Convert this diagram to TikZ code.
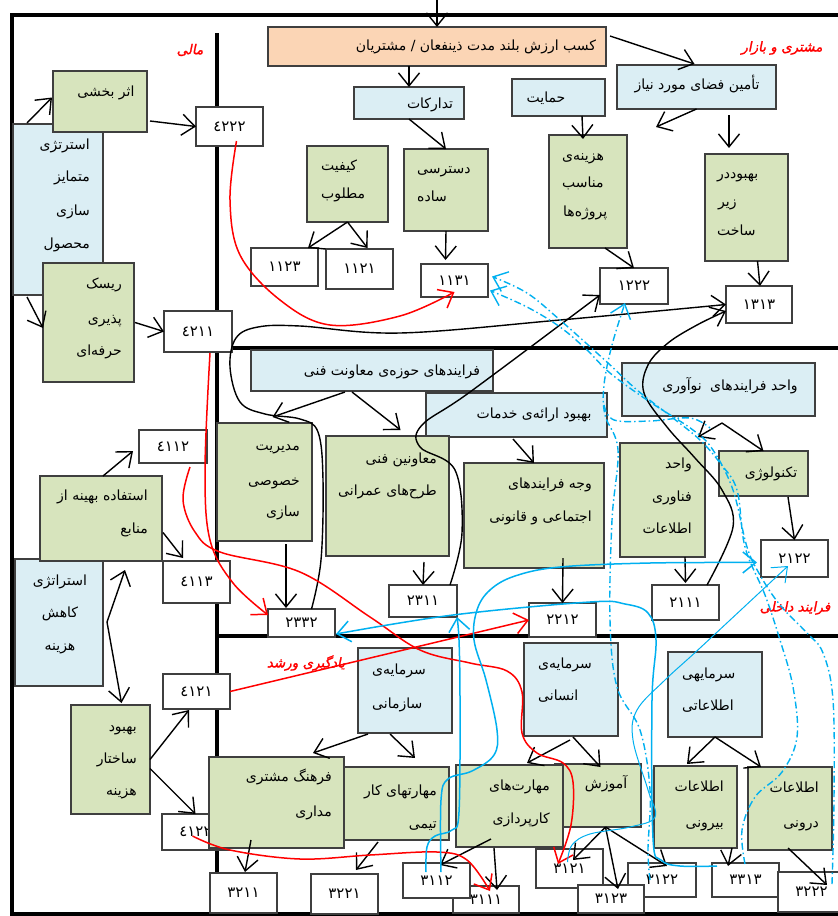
\documentclass[tikz,border=0pt]{standalone}
\usepackage{fontspec}
\newfontfamily\ar[Script=Arabic]{DejaVu Sans}
\newfontfamily\arred[Script=Arabic,FakeSlant=0.2,FakeBold=1.5]{DejaVu Sans}
\TeXXeTstate=1
\usetikzlibrary{arrows.meta,calc}
\definecolor{gfill}{HTML}{D7E4BD}
\definecolor{bfill}{HTML}{DBEEF4}
\definecolor{ofill}{HTML}{FBD5B5}
\definecolor{bord}{HTML}{3F3F3F}
\definecolor{cy}{HTML}{00B0F0}
\newcommand\mybox[6]{\node[#6,minimum width={(#4-#2)*1pt},minimum height={(#5-#3)*1pt}] (#1) at ({(#2+#4)/2},{(#3+#5)/2}) {};}
\newcommand\numbox[6]{\node[nbx,minimum width={(#4-#2)*1pt},minimum height={(#5-#3)*1pt}] (#1) at ({(#2+#4)/2},{(#3+#5)/2}) {#6};}
\newcommand\txl[5]{\node[tx,anchor=#4] (#1) at (#2,#3) {#5};}
\tikzset{
  boxs/.style={draw=bord,line width=1.3pt,inner sep=0pt,outer sep=0pt},
  gb/.style={boxs,fill=gfill},
  bb/.style={boxs,fill=bfill},
  ob/.style={boxs,fill=ofill},
  nbx/.style={boxs,fill=white,font=\ar\fontsize{15}{17}\selectfont},
  tx/.style={font=\ar\fontsize{14}{16}\selectfont,inner sep=0pt,text height=10pt,text depth=4pt},
  rl/.style={font=\arred\fontsize{13.5}{15}\selectfont,text=red,inner sep=0pt},
  thick line/.style={line width=4pt,draw=black},
  arr/.style={draw=black,line width=1.4pt,-{Straight Barb[length=13pt,width=21pt]}},
  rarr/.style={draw=red,line width=1.5pt,-{Straight Barb[length=13pt,width=21pt]}},
  barr/.style={draw=cy,line width=1.5pt,-{Straight Barb[length=13pt,width=21pt]}},
  tbarr/.style={draw=cy,line width=1pt,-{Straight Barb[length=13pt,width=21pt]}},
  dd/.style={draw=cy,line width=1.4pt,dash pattern=on 7pt off 3pt on 1.5pt off 3pt},
  ddarr/.style={dd,-{Straight Barb[length=13pt,width=21pt]}},
}
\begin{document}
\begin{tikzpicture}[x=1pt,y=-1pt]
\useasboundingbox (0,0) rectangle (838,916);
\fill[white] (0,0) rectangle (838,916);
% frame and dividers
\draw[thick line] (838,15) -- (12,15) -- (12,914) -- (838,914);
\draw[thick line] (217,33) -- (217,914);
\draw[thick line] (217,348) -- (838,348);
\draw[thick line] (217,636) -- (838,636);
% boxes top
\mybox{orange}{268}{27}{606}{66}{ob}
\mybox{tad}{354}{87}{464}{119}{bb}
\mybox{hem}{512}{79}{605}{116}{bb}
\mybox{tamin}{617}{65}{776}{109}{bb}
\mybox{keyf}{307}{146}{388}{222}{gb}
\numbox{b1123}{251}{248}{318}{286}{١١٢٣}
\numbox{b1121}{326}{249}{393}{289}{١١٢١}
\mybox{dast}{404}{149}{488}{231}{gb}
\numbox{b1131}{421}{264}{488}{297}{١١٣١}
\mybox{haz}{549}{135}{627}{248}{gb}
\numbox{b1222}{600}{268}{668}{304}{١٢٢٢}
\mybox{zir}{705}{154}{788}{261}{gb}
\numbox{b1313}{726}{286}{792}{323}{١٣١٣}
% left column
\mybox{estr}{13}{124}{103}{295}{bb}
\mybox{asar}{53}{71}{147}{132}{gb}
\mybox{risk}{43}{263}{134}{382}{gb}
\numbox{b4222}{196}{107}{263}{146}{٤٢٢٢}
\numbox{b4211}{164}{311}{232}{352}{٤٢١١}
\numbox{b4112}{139}{430}{207}{463}{٤١١٢}
\mybox{kah}{15}{559}{103}{686}{bb}
\mybox{estef}{40}{476}{162}{561}{gb}
\numbox{b4113}{163}{561}{230}{603}{٤١١٣}
\mybox{behs}{71}{705}{150}{814}{gb}
\numbox{b4121}{163}{674}{230}{709}{٤١٢١}
\numbox{b4122}{162}{814}{229}{850}{٤١٢٢}
% internal processes
\mybox{fh}{251}{350}{493}{391}{bb}
\mybox{be}{426}{393}{607}{437}{bb}
\mybox{nav}{622}{363}{815}{416}{bb}
\mybox{mod}{217}{423}{312}{541}{gb}
\mybox{moa}{326}{436}{449}{556}{gb}
\mybox{vajh}{464}{463}{604}{568}{gb}
\mybox{vfa}{620}{443}{705}{557}{gb}
\mybox{tech}{719}{451}{808}{496}{gb}
\numbox{b2332}{268}{609}{335}{637}{٢٣٣٢}
\numbox{b2311}{389}{585}{457}{617}{٢٣١١}
\numbox{b2212}{529}{603}{596}{637}{٢٢١٢}
\numbox{b2111}{652}{585}{719}{620}{٢١١١}
\numbox{b2122}{761}{540}{828}{577}{٢١٢٢}
% learning and growth
\mybox{saz}{358}{648}{452}{733}{bb}
\mybox{ens}{524}{643}{618}{736}{bb}
\mybox{set}{668}{652}{762}{737}{bb}
\mybox{tim}{344}{767}{449}{840}{gb}
\mybox{farh}{209}{757}{344}{848}{gb}
\mybox{amu}{555}{764}{641}{827}{gb}
\mybox{kar}{456}{765}{563}{847}{gb}
\mybox{bir}{654}{766}{737}{848}{gb}
\mybox{dar}{748}{767}{832}{850}{gb}
\numbox{b3211}{210}{873}{277}{913}{٣٢١١}
\numbox{b3221}{311}{874}{378}{914}{٣٢٢١}
\numbox{b3111}{453}{886}{519}{913}{٣١١١}
\numbox{b3112}{403}{863}{470}{898}{٣١١٢}
\numbox{b3121}{536}{849}{603}{888}{٣١٢١}
\numbox{b3122}{628}{863}{696}{897}{٣١٢٢}
\numbox{b3123}{578}{885}{644}{913}{٣١٢٣}
\numbox{b3313}{712}{863}{779}{897}{٣٣١٣}
\numbox{b3222}{778}{872}{845}{912}{٣٢٢٢}
% texts
\txl{t0}{476}{47}{center}{\beginR کسب ارزش بلند مدت ذینفعان / مشتریان\endR}
\txl{t1}{430}{105}{center}{\beginR تدارکات\endR}
\txl{t2}{546}{99}{center}{\beginR حمایت\endR}
\txl{t3}{697}{86}{center}{\beginR تأمین فضای مورد نیاز\endR}
\txl{t4a}{321}{167}{west}{\beginR کیفیت\endR}
\txl{t4b}{321}{195}{west}{\beginR مطلوب\endR}
\txl{t5a}{417}{170}{west}{\beginR دسترسی\endR}
\txl{t5b}{417}{198}{west}{\beginR ساده\endR}
\txl{t6a}{562}{157}{west}{\beginR هزینه‌ی\endR}
\txl{t6b}{562}{184}{west}{\beginR مناسب\endR}
\txl{t6c}{563}{213}{west}{\beginR پروژه‌ها\endR}
\txl{t7a}{717}{175}{west}{\beginR بهبوددر\endR}
\txl{t7b}{718}{203}{west}{\beginR زیر\endR}
\txl{t7c}{717}{232}{west}{\beginR ساخت\endR}
\txl{t8}{106}{93}{center}{\beginR اثر بخشی\endR}
\txl{t9a}{90}{146}{east}{\beginR استرتژی\endR}
\txl{t9b}{90}{178}{east}{\beginR متمایز\endR}
\txl{t9c}{90}{212}{east}{\beginR سازی\endR}
\txl{t9d}{90}{245}{east}{\beginR محصول\endR}
\txl{t10a}{122}{285}{east}{\beginR ریسک\endR}
\txl{t10b}{122}{320}{east}{\beginR پذیری\endR}
\txl{t10c}{122}{352}{east}{\beginR حرفه‌ای\endR}
\txl{t11a}{148}{497}{east}{\beginR استفاده بهینه از\endR}
\txl{t11b}{148}{530}{east}{\beginR منابع\endR}
\txl{t12a}{60}{582}{center}{\beginR استراتژی\endR}
\txl{t12b}{60}{614}{center}{\beginR کاهش\endR}
\txl{t12c}{60}{647}{center}{\beginR هزینه\endR}
\txl{t13a}{137}{728}{east}{\beginR بهبود\endR}
\txl{t13b}{137}{760}{east}{\beginR ساختار\endR}
\txl{t13c}{137}{792}{east}{\beginR هزینه\endR}
\txl{t14}{392}{372}{center}{\beginR فرایندهای حوزه‌ی معاونت فنی\endR}
\txl{t15}{534}{415}{center}{\beginR بهبود ارائه‌ی خدمات\endR}
\txl{t16}{730}{387}{center}{\beginR واحد فرایندهای\hspace{4pt} نوآوری\endR}
\txl{t17a}{300}{447}{east}{\beginR مدیریت\endR}
\txl{t17b}{300}{482}{east}{\beginR خصوصی\endR}
\txl{t17c}{300}{513}{east}{\beginR سازی\endR}
\txl{t18a}{437}{460}{east}{\beginR معاونین فنی\endR}
\txl{t18b}{437}{492}{east}{\beginR طرح‌های عمرانی\endR}
\txl{t19a}{592}{485}{east}{\beginR وجه فرایندهای\endR}
\txl{t19b}{592}{518}{east}{\beginR اجتماعی و قانونی\endR}
\txl{t20a}{692}{465}{east}{\beginR واحد\endR}
\txl{t20b}{692}{498}{east}{\beginR فناوری\endR}
\txl{t20c}{692}{530}{east}{\beginR اطلاعات\endR}
\txl{t21}{771}{474}{center}{\beginR تکنولوژی\endR}
\txl{t22a}{372}{671}{west}{\beginR سرمایه‌ی\endR}
\txl{t22b}{372}{705}{west}{\beginR سازمانی\endR}
\txl{t23a}{538}{665}{west}{\beginR سرمایه‌ی\endR}
\txl{t23b}{538}{697}{west}{\beginR انسانی\endR}
\txl{t24a}{682}{675}{west}{\beginR سرمایهی\endR}
\txl{t24b}{682}{707}{west}{\beginR اطلاعاتی\endR}
\txl{t25a}{332}{778}{east}{\beginR فرهنگ مشتری\endR}
\txl{t25b}{332}{813}{east}{\beginR مداری\endR}
\txl{t26a}{437}{792}{east}{\beginR مهارتهای کار\endR}
\txl{t26b}{437}{825}{east}{\beginR تیمی\endR}
\txl{t27a}{550}{787}{east}{\beginR مهارت‌های\endR}
\txl{t27b}{550}{820}{east}{\beginR کارپردازی\endR}
\txl{t28}{606}{785}{center}{\beginR آموزش\endR}
\txl{t29a}{724}{788}{east}{\beginR اطلاعات\endR}
\txl{t29b}{724}{824}{east}{\beginR بیرونی\endR}
\txl{t30a}{819}{789}{east}{\beginR اطلاعات\endR}
\txl{t30b}{819}{824}{east}{\beginR درونی\endR}
% red section labels
\node[rl] (l1) at (190,50) {\beginR مالی\endR};
\node[rl] (l2) at (782,48) {\beginR مشتری و بازار\endR};
\node[rl] (l3) at (795,608) {\beginR فرایند داخلی\endR};
\node[rl] (l4) at (306,663) {\beginR یادگیری ورشد\endR};
% free coordinates
\coordinate (topin) at (437,0);
\coordinate (c1) at (656,127);
\coordinate (c2s) at (729,115);
\coordinate (c2e) at (729,148);
\coordinate (kk) at (107,622);
\coordinate (navp) at (722,423);
% black straight arrows
\draw[arr] (topin) -- (orange.north);
\draw[arr] (orange.south -| tad.north) -- (tad.north);
\draw[arr] ($(orange.north east)+(4,9)$) -- ($(tamin.north)+(-2,-1)$);
\draw[arr] (tamin.south) -- (c1);
\draw[arr] (c2s) -- (c2e);
\draw[arr] ($(zir.south)+(11,0)$) -- ($(b1313.north)+(1,0)$);
\draw[arr] ($(hem.south east)+(-23,0)$) -- ($(haz.north)+(-5,4)$);
\draw[arr] ($(haz.south east)+(-22,0)$) -- (b1222.north);
\draw[arr] (keyf.south) -- ($(b1123.north east)+(-10,0)$);
\draw[arr] (keyf.south) -- ($(b1121.north)+(8,-1)$);
\draw[arr] (tad.south) -- (dast.north);
\draw[arr] (dast.south) -- ($(b1131.north)+(-9,-4)$);
\draw[arr] ($(estr.north west)+(14,-1)$) -- ($(asar.west)+(-1,-4)$);
\draw[arr] ($(asar.south east)+(3,-11)$) -- (b4222.west);
\draw[arr] ($(estr.south west)+(14,2)$) -- ($(risk.north west)+(0,65)$);
\draw[arr] ($(risk.east)+(1,0)$) -- (b4211.west);
\draw[arr] ($(estef.north)+(2,0)$) -- ($(b4112.south west)+(-6,-12)$);
\draw[arr] ($(estef.east)+(1,14)$) -- ($(b4113.north west)+(20,-3)$);
\draw[arr] (kk) -- ($(estef.south)+(24,9)$);
\draw[arr] (kk) -- ($(behs.north)+(11,-2)$);
\draw[arr] (behs.east) -- ($(b4121.south)+(-7.5,1)$);
\draw[arr] ($(behs.east)+(0,9)$) -- (b4122.north);
\draw[arr] ($(fh.south)+(-27,1)$) -- ($(mod.north)+(8,-6)$);
\draw[arr] ($(fh.south)+(-20,1)$) -- ($(moa.north)+(13,-6)$);
\draw[arr] ($(be.south)+(-3.5,2)$) -- (vajh.north);
\draw[arr] (navp) -- ($(vfa.north east)+(-7,-6)$);
\draw[arr] (navp) -- (tech.north);
\draw[arr] ($(mod.south)+(21.5,3)$) -- ($(b2332.north west)+(18,-1)$);
\draw[arr] ($(moa.south)+(36.5,6)$) -- (b2311.north);
\draw[arr] ($(vajh.south)+(29,-10)$) -- (b2212.north);
\draw[arr] ($(vfa.south)+(22.5,0)$) -- ($(b2111.north)+(0,-2)$);
\draw[arr] ($(tech.south)+(24.5,1)$) -- (b2122.north);
\draw[arr] ($(saz.south west)+(10,1)$) -- ($(farh.north east)+(-31,-4)$);
\draw[arr] ($(saz.south west)+(32,1)$) -- ($(tim.north)+(18.5,-9)$);
\draw[arr] ($(ens.south)+(2,1)$) -- ($(amu.north)+(2.5,3)$);
\draw[arr] ($(ens.south)+(-1,4)$) -- ($(kar.north)+(17.5,-2)$);
\draw[arr] (set.south) -- ($(bir.north)+(-8.5,-2)$);
\draw[arr] (set.south) -- ($(dar.north west)+(13,0)$);
\draw[arr] ($(farh.south west)+(42,-8)$) -- ($(b3211.north)+(1.5,-1)$);
\draw[arr] ($(tim.south west)+(34,2)$) -- ($(b3221.north)+(11.5,-4)$);
\draw[arr] ($(kar.south west)+(35,-8)$) -- ($(b3112.north)+(3.5,2)$);
\draw[arr] ($(kar.south west)+(38,1)$) -- ($(b3111.north)+(11,4)$);
\draw[arr] ($(amu.south)+(7.5,0)$) -- ($(b3121.north)+(3.5,11)$);
\draw[arr] ($(amu.south)+(7.5,0)$) -- ($(b3123.north)+(7,4)$);
\draw[arr] ($(amu.south)+(7.5,0)$) -- ($(b3122.north)+(5,3)$);
\draw[arr] ($(bir.south east)+(-5,0)$) -- ($(b3313.north west)+(16,3)$);
\draw[arr] ($(dar.south)+(-2,-2)$) -- ($(b3222.north west)+(49,13)$);
% black curves
\draw[arr] plot[smooth,tension=0.6] coordinates {($(b2311.north east)+(-7,0)$) (462,533) (455,470) (420,447) (422,425) (470,392) ($(b1222.west)+(0,9)$)};
\draw[arr] plot[smooth,tension=0.6] coordinates {($(b2332.north)+(10,0)$) (321,560) (323,480) (318,432) (300,419) (265,414) (240,402) (230,367) (236,338) (258,327) (300,326) (400,333) (560,320) (b1313.west)};
\draw[arr] plot[smooth,tension=0.6] coordinates {($(b2111.north east)+(-12,0)$) (733,527) (722,490) (695,458) (667,427) (644,393) (648,365) (668,343) (697,325) ($(b1313.south west)+(0,-12)$)};
% red curves
\draw[rarr] plot[smooth,tension=0.6] coordinates {($(b4222.south)+(7,-5)$) (230,200) (240,255) (280,300) (330,325) (400,316) ($(b1131.south)+(0,-5)$)};
\draw[rarr] plot[smooth,tension=0.6] coordinates {($(b4211.south)+(12,1)$) (205,470) (210,540) (233,583) ($(b2332.west)+(0,-8)$)};
\draw[rarr] plot[smooth,tension=0.6] coordinates {($(b4112.south)+(17,4)$) (183,500) (195,532) (220,552) (300,572) (370,617) (420,650) (470,663) (507,671) (522,692) (522,733) (537,753) (563,763) (573,782) (571,825) ($(b3121.north west)+(22,15)$)};
\draw[rarr] (b4121.east) -- (b2212.west);
\draw[rarr] plot[smooth,tension=0.6] coordinates {($(b4122.center)+(-3,4)$) (230,850) (300,859) (370,855) (437,852) (467,860) ($(b3111.north)+(4,5)$)};
% blue solid curves
\draw[barr] plot[smooth,tension=0.6] coordinates {($(b3112.north west)+(23,9)$) (427,847) (435,836) (452,830) (459,812) (460,700) (459,640) (b2311.south east)};
\draw[barr] plot[smooth,tension=0.6] coordinates {($(b3112.north west)+(38,9)$) (441,800) (448,779) (472,771) (494,755) (497,730) (486,680) (474,640) (477,610) (490,590) (515,576) (560,567) (650,563) ($(b2122.west)+(-4,4)$)};
\draw[barr] plot[smooth,tension=0.6] coordinates {($(b3313.north west)+(5,3)$) (680,866) (661,860) (653,838) (652,700) (656,640) (648,613) (625,604) (590,602) (453,615) ($(b2332.south east)+(1,-3)$)};
\draw[tbarr] plot[smooth,tension=0.6] coordinates {($(b3121.north)+(-2,13)$) (572,845) (590,834) (630,827) (655,817) (648,790) (633,740) (637,710) (665,680) (700,648) ($(b2122.south west)+(27,-11)$)};
% blue dash-dot curves
\draw[ddarr] plot[smooth,tension=0.6] coordinates {($(b3122.north west)+(22,17)$) (648,850) (650,790) (640,730) (617,687) (610,620) (612,520) (618,450) (605,415) (604,385) (612,345) ($(b1222.south)+(-9,-1)$)};
\draw[dd] plot[smooth,tension=0.6] coordinates {(604,405) (614,420) (650,421) (690,418) (710,428)};
\draw[ddarr] plot[smooth,tension=0.6] coordinates {($(b3313.north east)+(-34,1)$) (742,830) (755,797) (782,772) (797,737) (793,687) (780,640) (765,595) (745,547) (737,490) (720,463) (700,440) (673,418) (637,390) (608,363) (560,320) (527,293) ($(b1131.east)+(4,-4)$)};
\draw[ddarr] plot[smooth,tension=0.6] coordinates {($(b3222.north west)+(54,12)$) (834,800) (833,700) (823,653) (807,633) (780,605) (760,575) (747,547) (733,490) (713,450) (693,430) (647,400) (610,373) (587,350) (560,327) (527,307) ($(b1131.east)+(2,10)$)};
\end{tikzpicture}
\end{document}
